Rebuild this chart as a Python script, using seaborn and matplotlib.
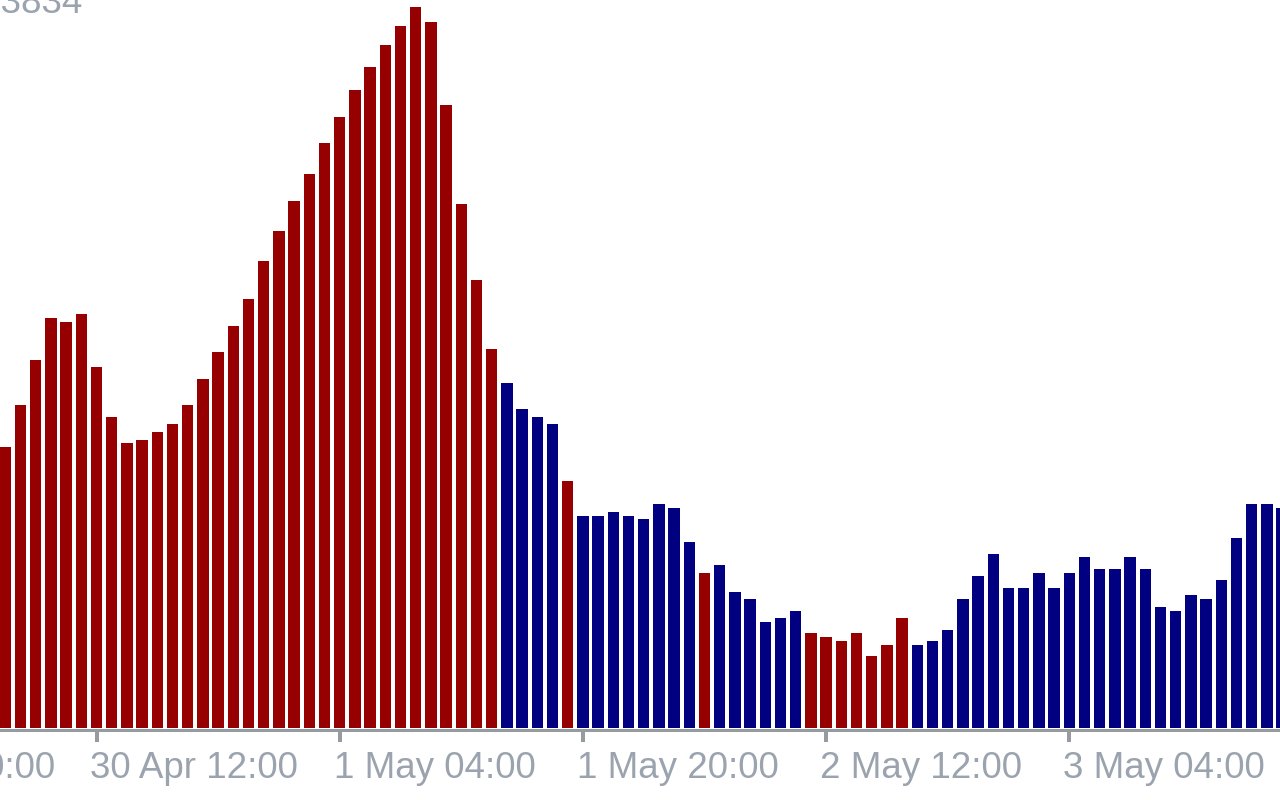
import matplotlib
matplotlib.use("Agg")
import matplotlib.pyplot as plt
import matplotlib.transforms as mtransforms
import numpy as np
import pandas as pd
import seaborn as sns

# ---------------- data ----------------
start_time = "2019-04-30 06:00"   # first bar, hourly bars

values = [
    0.534, 0.614, 0.699, 0.779, 0.772, 0.787, 0.686, 0.591, 0.542, 0.547,
    0.562, 0.578, 0.614, 0.663, 0.715, 0.764, 0.815, 0.887, 0.944, 1.001,
    1.053, 1.112, 1.161, 1.212, 1.256, 1.298, 1.334, 1.370, 1.342, 1.184,
    0.996, 0.851, 0.720, 0.656, 0.606, 0.591, 0.578, 0.469, 0.403, 0.403,
    0.410, 0.403, 0.397, 0.426, 0.418, 0.353, 0.295, 0.310, 0.258, 0.245,
    0.201, 0.209, 0.222, 0.181, 0.173, 0.165, 0.181, 0.137, 0.158, 0.209,
    0.158, 0.165, 0.186, 0.245, 0.289, 0.331, 0.266, 0.266, 0.295, 0.266,
    0.295, 0.325, 0.302, 0.302, 0.325, 0.302, 0.230, 0.222, 0.253, 0.245,
    0.281, 0.361, 0.426, 0.426, 0.418,
]

direction = (["down"] * 33 + ["up"] * 4 + ["down"] + ["up"] * 8 + ["down"]
             + ["up"] * 6 + ["down"] * 7 + ["up"] * 25)

tick_labels = ["29 Apr 20:00", "30 Apr 12:00", "1 May 04:00",
               "1 May 20:00", "2 May 12:00", "3 May 04:00"]
tick_bar_index = [-10, 6, 22, 38, 54, 70]

top_label = "1.3834"

# ---------------- figure ----------------
sns.set_theme(style="white")
plt.rcParams["font.family"] = ["Liberation Sans", "DejaVu Sans"]

W, H, DPI = 1280, 800, 100
fig = plt.figure(figsize=(W / DPI, H / DPI), dpi=DPI, facecolor="white")

pitch = 15.2          # px per bar
first_center = 5.3    # px of bar 0 center
extra_left = 160      # axes extends beyond left edge of the figure
ax_left_px = -extra_left
ax_bottom_px = 728
ax = fig.add_axes([ax_left_px / W, (H - ax_bottom_px) / H,
                   (W - ax_left_px) / W, ax_bottom_px / H])
ax.set_facecolor("white")

df = pd.DataFrame({"bar": np.arange(len(values)), "value": values,
                   "direction": direction})
palette = {"down": "#970000", "up": "#000080"}
sns.barplot(data=df, x="bar", y="value", hue="direction", palette=palette,
            native_scale=True, dodge=False, width=0.76, linewidth=0,
            saturation=1, legend=False, ax=ax)

xmin = -(first_center + extra_left) / pitch
xmax = (W - first_center) / pitch
ax.set_xlim(xmin, xmax)
ax.set_ylim(0, 1.3834)

gray = "#969ba0"
for s in ["top", "right", "left"]:
    ax.spines[s].set_visible(False)
ax.spines["bottom"].set_color(gray)
ax.spines["bottom"].set_linewidth(3 * 72 / DPI)
ax.spines["bottom"].set_position(("outward", 1.5 * 72 / DPI))
ax.spines["bottom"].set_zorder(5)

ax.set_yticks([])
ax.set_xticks(tick_bar_index)
ax.set_xticklabels(tick_labels)
ax.set_xlabel("")
ax.set_ylabel("")
ax.tick_params(axis="x", direction="out", length=12 * 72 / DPI,
               width=4 * 72 / DPI, color=gray, pad=6.5,
               labelsize=26.5, labelcolor="#9aa3ae", bottom=True)
offset = mtransforms.ScaledTranslation(-6 / DPI, 0, fig.dpi_scale_trans)
for lbl in ax.get_xticklabels():
    lbl.set_horizontalalignment("left")
    lbl.set_transform(lbl.get_transform() + offset)

fig.text(83 / W, 1 - 13 / H, top_label, ha="right", va="baseline",
         fontsize=26.5, color="#9aa3ae")

fig.savefig("out.png", dpi=DPI, facecolor="white")
